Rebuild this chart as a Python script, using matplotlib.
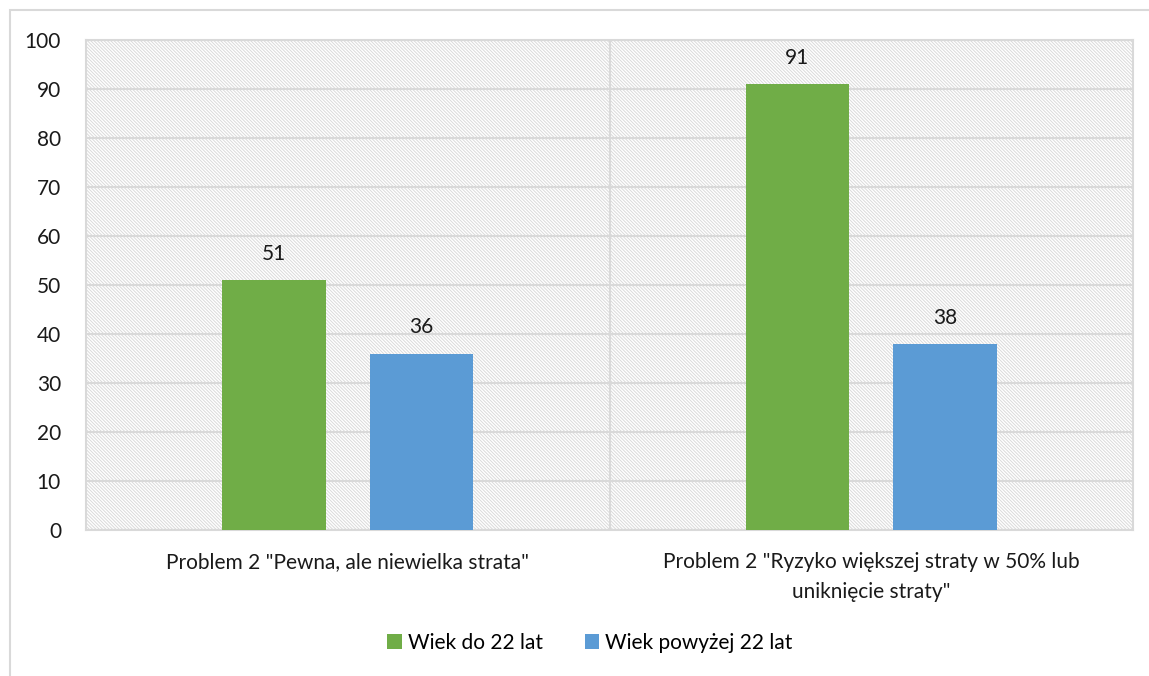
import numpy as np
import matplotlib.pyplot as plt
from matplotlib.patches import Rectangle

plt.rcParams['font.family'] = ['Lato', 'DejaVu Sans']
plt.rcParams['hatch.color'] = '#dadada'
plt.rcParams['hatch.linewidth'] = 0.7

categories = ['Problem 2 "Pewna, ale niewielka strata"',
              'Problem 2 "Ryzyko większej straty w 50% lub\nuniknięcie straty"']
series_names = ['Wiek do 22 lat', 'Wiek powyżej 22 lat']
young = [51, 91]
older = [36, 38]
colors = ['#70AD47', '#5B9BD5']

W, H = 1149, 676
fs = 15
fig = plt.figure(figsize=(W / 100, H / 100), dpi=100)

# outer chart frame
fig.patches.append(Rectangle((10 / W, -0.1), 1.2, 1 - 10 / H + 0.1,
                             transform=fig.transFigure, fill=False,
                             edgecolor='#d9d9d9', linewidth=1.5))

ax = fig.add_axes([86 / W, 1 - 530 / H, (1133 - 86) / W, (530 - 40) / H])

# hatched plot area background
ax.add_patch(Rectangle((0, 0), 1, 1, transform=ax.transAxes, facecolor='white',
                       edgecolor='#dadada', hatch='\\' * 10, linewidth=0, zorder=0))

x = np.arange(len(categories)) + 0.5
width = 0.197
off = 0.141
b1 = ax.bar(x - off, young, width, color=colors[0], label=series_names[0], zorder=3)
b2 = ax.bar(x + off, older, width, color=colors[1], label=series_names[1], zorder=3)

for bars, vals in [(b1, young), (b2, older)]:
    for b, v in zip(bars, vals):
        ax.text(b.get_x() + b.get_width() / 2, v + 3.3, str(v),
                ha='center', va='bottom', fontsize=fs, color='#1a1a1a')

ax.set_xlim(0, 2)
ax.set_ylim(0, 100)
ax.set_yticks(range(0, 101, 10))
ax.yaxis.grid(True, color='#d9d9d9', linewidth=1.5, zorder=1)
ax.axvline(1, color='#d9d9d9', linewidth=1.5, zorder=1)
ax.set_axisbelow(True)

ax.set_xticks(x)
ax.set_xticklabels(categories, fontsize=fs, color='#1a1a1a', linespacing=1.6)
ax.tick_params(axis='x', length=0, pad=16)
ax.tick_params(axis='y', length=0, pad=18, labelsize=fs, labelcolor='#1a1a1a')

for s in ax.spines.values():
    s.set_color('#d9d9d9')
    s.set_linewidth(1.5)

fig.legend(handles=[b1, b2], labels=series_names, loc='center',
           bbox_to_anchor=(590 / W, 1 - 643 / H), ncol=2, frameon=False,
           fontsize=fs, handlelength=0.7, handleheight=0.7,
           handletextpad=0.3, columnspacing=2.0)

fig.savefig('out.png', dpi=100)
